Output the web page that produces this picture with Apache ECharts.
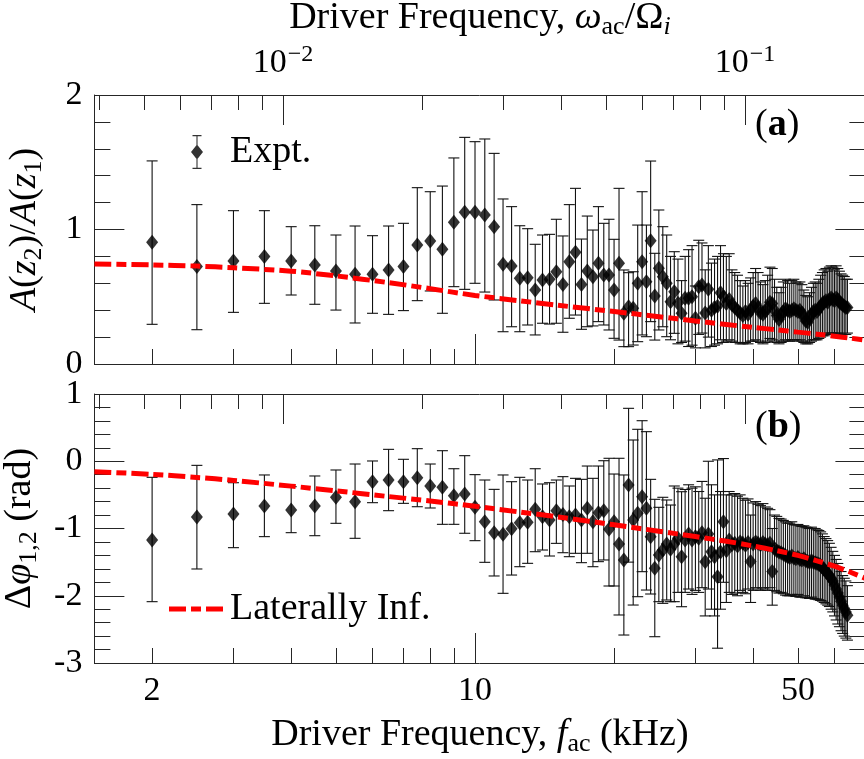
<!DOCTYPE html>
<html>
<head>
<meta charset="utf-8">
<title>Driver frequency response</title>
<script src="https://cdn.jsdelivr.net/npm/echarts@6.0.0/dist/echarts.min.js"></script>
<style>
  html, body { margin: 0; padding: 0; background: #ffffff; }
  #chart { width: 864px; height: 759px; }
</style>
</head>
<body>
<div id="chart"></div>
<script>
// ---- measured data -------------------------------------------------------
// Driver frequency (kHz) of each measurement
const freqKHz = [
  2, 2.5, 3, 3.5, 4, 4.5, 5, 5.5, 6, 6.5,
  7, 7.5, 8, 8.5, 9, 9.5, 10, 10.5, 11, 11.5,
  12, 12.5, 13, 13.5, 14, 14.5, 15, 15.5, 16, 16.5,
  17, 17.5, 18, 18.5, 19, 19.5, 20, 20.5, 21, 21.5,
  22, 22.5, 23, 23.5, 24, 24.5, 25, 25.5, 26, 26.5,
  27, 27.5, 28, 28.5, 29, 29.5, 30, 30.5, 31, 31.5,
  32, 32.5, 33, 33.5, 34, 34.5, 35, 35.5, 36, 36.5,
  37, 37.5, 38, 38.5, 39, 39.5, 40, 40.5, 41, 41.5,
  42, 42.5, 43, 43.5, 44, 44.5, 45, 45.5, 46, 46.5,
  47, 47.5, 48, 48.5, 49, 49.5, 50, 50.5, 51, 51.5,
  52, 52.5, 53, 53.5, 54, 54.5, 55, 55.5, 56, 56.5,
  57, 57.5, 58, 58.5, 59, 59.5, 60, 60.5, 61, 61.5,
  62, 62.5, 63, 63.5, 64
];

// (a) amplitude ratio A(z2)/A(z1) and its error-bar limits
const ampRatio = [
  0.905, 0.724, 0.766, 0.800, 0.766, 0.736, 0.691, 0.667, 0.667, 0.699,
  0.724, 0.885, 0.914, 0.853, 1.053, 1.128, 1.128, 1.108, 1.021, 0.741,
  0.729, 0.637, 0.642, 0.550, 0.625, 0.630, 0.686, 0.592, 0.761, 0.830,
  0.592, 0.691, 0.649, 0.749, 0.662, 0.662, 0.550, 0.749, 0.377, 0.426,
  0.414, 0.600, 0.761, 0.612, 0.917, 0.505, 0.711, 0.649, 0.600, 0.463,
  0.537, 0.451, 0.377, 0.488, 0.488, 0.500, 0.340, 0.575, 0.587, 0.380,
  0.555, 0.400, 0.420, 0.430, 0.530, 0.500, 0.450, 0.480, 0.440, 0.420,
  0.400, 0.380, 0.360, 0.390, 0.370, 0.400, 0.430, 0.450, 0.420, 0.380,
  0.370, 0.390, 0.420, 0.460, 0.450, 0.400, 0.360, 0.330, 0.360, 0.390,
  0.410, 0.400, 0.390, 0.400, 0.410, 0.400, 0.390, 0.400, 0.380, 0.350,
  0.320, 0.310, 0.340, 0.370, 0.390, 0.400, 0.390, 0.410, 0.430, 0.450,
  0.460, 0.470, 0.460, 0.480, 0.490, 0.480, 0.470, 0.490, 0.480, 0.460,
  0.450, 0.440, 0.430, 0.420, 0.420
];
const ampLow = [
  0.295, 0.255, 0.384, 0.451, 0.513, 0.444, 0.401, 0.305, 0.377, 0.369,
  0.397, 0.471, 0.543, 0.377, 0.575, 0.555, 0.600, 0.535, 0.476, 0.240,
  0.277, 0.240, 0.290, 0.216, 0.303, 0.297, 0.303, 0.236, 0.340, 0.364,
  0.258, 0.277, 0.283, 0.315, 0.290, 0.253, 0.191, 0.178, 0.129, 0.129,
  0.141, 0.166, 0.216, 0.203, 0.315, 0.178, 0.253, 0.277, 0.203, 0.180,
  0.228, 0.150, 0.160, 0.170, 0.130, 0.140, 0.120, 0.220, 0.230, 0.120,
  0.200, 0.130, 0.140, 0.150, 0.180, 0.160, 0.170, 0.180, 0.170, 0.160,
  0.160, 0.150, 0.150, 0.160, 0.150, 0.170, 0.170, 0.180, 0.170, 0.160,
  0.150, 0.160, 0.170, 0.190, 0.180, 0.170, 0.160, 0.150, 0.160, 0.170,
  0.180, 0.170, 0.170, 0.180, 0.180, 0.180, 0.170, 0.180, 0.170, 0.160,
  0.150, 0.150, 0.160, 0.170, 0.180, 0.180, 0.180, 0.190, 0.200, 0.210,
  0.210, 0.220, 0.220, 0.230, 0.230, 0.230, 0.220, 0.230, 0.230, 0.220,
  0.220, 0.220, 0.220, 0.220, 0.230
];
const ampHigh = [
  1.510, 1.185, 1.140, 1.140, 1.021, 1.028, 0.959, 1.026, 0.954, 1.026,
  1.046, 1.311, 1.281, 1.323, 1.532, 1.685, 1.653, 1.673, 1.566, 1.227,
  1.170, 1.028, 1.006, 0.890, 0.959, 0.964, 1.076, 0.952, 1.185, 1.306,
  0.929, 1.100, 0.996, 1.170, 1.046, 1.076, 0.927, 1.306, 0.699, 0.679,
  0.686, 1.033, 1.281, 1.033, 1.509, 0.823, 1.145, 1.021, 0.959, 0.800,
  0.835, 0.780, 0.620, 0.800, 0.850, 0.880, 0.580, 0.920, 0.900, 0.700,
  0.880, 0.750, 0.780, 0.800, 0.880, 0.820, 0.800, 0.820, 0.700, 0.680,
  0.660, 0.620, 0.580, 0.620, 0.600, 0.640, 0.680, 0.710, 0.680, 0.610,
  0.590, 0.620, 0.660, 0.720, 0.710, 0.630, 0.570, 0.530, 0.570, 0.610,
  0.630, 0.620, 0.600, 0.620, 0.630, 0.610, 0.600, 0.610, 0.590, 0.550,
  0.510, 0.500, 0.530, 0.570, 0.600, 0.610, 0.600, 0.630, 0.660, 0.680,
  0.700, 0.710, 0.690, 0.720, 0.730, 0.720, 0.700, 0.730, 0.710, 0.690,
  0.670, 0.660, 0.650, 0.630, 0.630
];

// (b) phase difference Δφ(1,2) in rad and its error-bar limits
const phaseDiff = [
  -1.171, -0.829, -0.784, -0.665, -0.725, -0.665, -0.536, -0.601, -0.304, -0.279,
  -0.304, -0.244, -0.368, -0.388, -0.512, -0.487, -0.685, -0.898, -1.062, -1.087,
  -1.002, -0.913, -0.908, -0.715, -0.824, -0.874, -0.735, -0.790, -0.824, -0.800,
  -0.874, -0.700, -0.898, -0.765, -0.735, -1.012, -0.898, -1.231, -1.468, -0.353,
  -0.874, -0.774, -0.527, -0.700, -1.121, -1.592, -1.394, -1.320, -1.231, -1.310,
  -1.231, -1.146, -1.419, -1.171, -1.082, -1.171, -1.121, -1.146, -1.062, -1.493,
  -1.082, -1.345, -1.420, -1.716, -1.350, -0.898, -1.330, -1.171, -1.240, -1.220,
  -1.260, -1.200, -1.220, -1.250, -1.210, -1.490, -1.230, -1.200, -1.220, -1.240,
  -1.210, -1.230, -1.250, -1.220, -1.640, -1.300, -1.330, -1.350, -1.360, -1.380,
  -1.400, -1.420, -1.430, -1.410, -1.440, -1.450, -1.430, -1.460, -1.470, -1.450,
  -1.480, -1.490, -1.500, -1.480, -1.500, -1.510, -1.520, -1.530, -1.550, -1.580,
  -1.610, -1.640, -1.670, -1.700, -1.740, -1.780, -1.840, -1.900, -1.960, -2.020,
  -2.080, -2.140, -2.190, -2.240, -2.290
];
const phaseLow = [
  -2.088, -1.602, -1.285, -1.121, -1.062, -1.107, -0.923, -1.146, -0.616, -0.735,
  -0.626, -0.676, -0.695, -0.938, -0.938, -1.071, -1.181, -1.503, -1.706, -1.964,
  -1.692, -1.568, -1.518, -1.345, -1.320, -1.409, -1.221, -1.360, -1.419, -1.369,
  -1.508, -1.369, -1.568, -1.493, -1.468, -1.855, -1.855, -2.286, -2.584, -1.500,
  -2.138, -2.014, -1.642, -1.915, -1.974, -2.609, -2.088, -2.113, -2.063, -2.088,
  -2.088, -1.950, -2.163, -1.950, -1.900, -1.980, -1.920, -1.950, -1.880, -2.300,
  -1.900, -2.200, -2.300, -2.780, -2.200, -1.800, -2.100, -1.950, -1.980, -1.960,
  -2.000, -1.920, -1.950, -1.970, -1.900, -2.100, -1.920, -1.880, -1.900, -1.920,
  -1.880, -1.900, -1.920, -1.880, -2.140, -1.920, -1.940, -1.960, -1.950, -1.970,
  -1.990, -2.000, -2.000, -1.980, -2.000, -2.010, -1.980, -2.020, -2.020, -2.000,
  -2.030, -2.030, -2.040, -2.020, -2.040, -2.050, -2.050, -2.060, -2.070, -2.080,
  -2.100, -2.120, -2.140, -2.160, -2.200, -2.240, -2.300, -2.360, -2.420, -2.460,
  -2.520, -2.560, -2.600, -2.630, -2.660
];
const phaseHigh = [
  -0.239, -0.061, -0.319, -0.204, -0.378, -0.219, -0.130, -0.041, 0.004, 0.177,
  0.029, 0.187, -0.041, 0.157, -0.111, 0.083, -0.199, -0.279, -0.418, -0.204,
  -0.304, -0.239, -0.279, -0.111, -0.338, -0.319, -0.279, -0.229, -0.368, -0.254,
  -0.269, -0.071, -0.254, -0.071, 0.008, 0.044, -0.190, 0.044, -0.204, 0.787,
  0.316, 0.475, 0.603, 0.440, -0.269, -0.566, -0.685, -0.536, -0.576, -0.651,
  -0.368, -0.400, -0.453, -0.420, -0.350, -0.400, -0.380, -0.450, -0.300, -0.550,
  0.000, -0.350, -0.500, 0.020, -0.450, 0.040, -0.500, -0.450, -0.500, -0.480,
  -0.520, -0.500, -0.550, -0.580, -0.560, -0.800, -0.620, -0.600, -0.640, -0.660,
  -0.630, -0.680, -0.700, -0.720, -1.000, -0.800, -0.820, -0.850, -0.860, -0.880,
  -0.900, -0.920, -0.920, -0.900, -0.940, -0.950, -0.940, -0.960, -0.970, -0.960,
  -0.980, -0.990, -1.000, -0.980, -1.000, -1.000, -1.020, -1.030, -1.050, -1.080,
  -1.120, -1.150, -1.180, -1.220, -1.280, -1.340, -1.400, -1.460, -1.520, -1.580,
  -1.640, -1.700, -1.740, -1.780, -1.850
];

// ---- laterally infinite model --------------------------------------------
const modelFreq  = [1.5, 2, 2.5, 3, 4, 5, 6.5, 8, 10, 12.5, 15, 20, 25, 30, 35, 40, 45, 50, 55, 60, 65, 70];
const modelAmp   = [0.744, 0.737, 0.728, 0.716, 0.690, 0.655, 0.605, 0.560, 0.510, 0.470, 0.438, 0.390,
                    0.352, 0.320, 0.294, 0.272, 0.254, 0.237, 0.222, 0.207, 0.192, 0.178];
const modelPhase = [-0.155, -0.195, -0.240, -0.285, -0.370, -0.440, -0.525, -0.590, -0.670, -0.755, -0.825,
                    -0.945, -1.040, -1.120, -1.190, -1.260, -1.330, -1.400, -1.480, -1.560, -1.650, -1.740];

// ---- axis ticks ----------------------------------------------------------
const kHzMinorTicks    = [2, 3, 4, 5, 6, 7, 8, 9, 20, 30, 40, 50, 60];
const kHzDecadeTicks   = [10];
const kHzTickLabels    = [2, 10, 50];
const omegaMinorTicks  = [0.004, 0.005, 0.006, 0.007, 0.008, 0.009, 0.02, 0.03, 0.04, 0.05, 0.06, 0.07, 0.08, 0.09];
const omegaDecadeTicks = [0.01, 0.1];

const fMin = 1.5, fMax = 70;       // kHz span of both panels
const kHzPerOmega = 384;           // f_ac (kHz) at which ω_ac/Ω_i = 1

// ---- styling -------------------------------------------------------------
const FONT = '"Liberation Serif", "DejaVu Serif", serif';
const AXIS_COLOR = '#262626';
const TEXT_SIZE = 38;
const TICK_SIZE = 34;

const lg = Math.log10;
const kMin = lg(fMin), kMax = lg(fMax);
const wMin = lg(fMin / kHzPerOmega), wMax = lg(fMax / kHzPerOmega);

const mathRich = {
  it:    { fontFamily: FONT, fontSize: TEXT_SIZE, fontStyle: 'italic', color: '#000', lineHeight: 46 },
  up:    { fontFamily: FONT, fontSize: TEXT_SIZE, color: '#000', lineHeight: 46 },
  sub:   { fontFamily: FONT, fontSize: 26, color: '#000', lineHeight: 26, verticalAlign: 'top', padding: [19, 0, 0, 0] },
  subIt: { fontFamily: FONT, fontSize: 26, fontStyle: 'italic', color: '#000', lineHeight: 26, verticalAlign: 'top', padding: [19, 0, 0, 0] }
};
const nameStyle = { fontFamily: FONT, fontSize: TEXT_SIZE, color: '#000', lineHeight: 46, rich: mathRich };

const tickLine = { color: AXIS_COLOR, width: 1 };
const frameLine = { show: true, onZero: false, lineStyle: { color: AXIS_COLOR, width: 1 } };

function tickAxis(grid, position, min, max, ticks, length, extra) {
  return Object.assign({
    type: 'value', gridIndex: grid, position: position, min: min, max: max,
    axisLine: { show: false, onZero: false },
    axisTick: { show: true, inside: true, length: length, customValues: ticks.map(lg), lineStyle: tickLine },
    axisLabel: { show: false },
    splitLine: { show: false }
  }, extra || {});
}

function panelXAxes(grid, withKHzLabels, withOmegaLabels) {
  const kHzExtra = { axisLine: frameLine };
  if (withKHzLabels) {
    Object.assign(kHzExtra, {
      axisLabel: {
        show: true, customValues: kHzTickLabels.map(lg), margin: 8,
        formatter: v => String(Math.round(Math.pow(10, v))),
        fontFamily: FONT, fontSize: TICK_SIZE, color: '#000', lineHeight: 40
      },
      name: '{up|Driver Frequency, }{it|f}{sub|ac}{up| (kHz)}',
      nameLocation: 'middle', nameGap: 48, nameTextStyle: nameStyle
    });
  }
  const omegaExtra = { axisLine: frameLine };
  if (withOmegaLabels) {
    Object.assign(omegaExtra, {
      axisLabel: {
        show: true, customValues: omegaDecadeTicks.map(lg), margin: 12,
        formatter: v => '{num|10}{sup|\u2212' + Math.abs(Math.round(v)) + '}',
        fontFamily: FONT, fontSize: TICK_SIZE, color: '#000', lineHeight: 40,
        rich: {
          num: { fontFamily: FONT, fontSize: TICK_SIZE, color: '#000', lineHeight: 40 },
          sup: { fontFamily: FONT, fontSize: 24, color: '#000', lineHeight: 24, verticalAlign: 'top', padding: [0, 0, 0, 1] }
        }
      },
      name: '{up|Driver Frequency, }{it|\u03C9}{sub|ac}{up|/\u03A9}{subIt|i}',
      nameLocation: 'middle', nameGap: 54, nameTextStyle: nameStyle
    });
  }
  return [
    // data axis (log scale); ticks and labels come from the axes below
    { type: 'log', logBase: 10, gridIndex: grid, min: fMin, max: fMax, show: false },
    tickAxis(grid, 'bottom', kMin, kMax, kHzMinorTicks, 15, kHzExtra),
    tickAxis(grid, 'bottom', kMin, kMax, kHzDecadeTicks, 30),
    tickAxis(grid, 'top', wMin, wMax, omegaMinorTicks, 15, omegaExtra),
    tickAxis(grid, 'top', wMin, wMax, omegaDecadeTicks, 30)
  ];
}

function panelYAxes(grid, min, max, name) {
  const common = {
    type: 'value', gridIndex: grid, min: min, max: max, interval: 1,
    axisLine: frameLine,
    axisTick: { show: true, inside: true, length: 30, lineStyle: tickLine },
    minorTick: { show: true, splitNumber: 5, length: 16, lineStyle: tickLine },
    splitLine: { show: false }, minorSplitLine: { show: false }
  };
  return [
    Object.assign({}, common, {
      position: 'left',
      axisLabel: { show: true, margin: 12, fontFamily: FONT, fontSize: TICK_SIZE, color: '#000', formatter: v => String(v) },
      name: name, nameLocation: 'middle', nameRotate: 90, nameGap: 46, nameTextStyle: nameStyle
    }),
    Object.assign({}, common, { position: 'right', axisLabel: { show: false } })
  ];
}

function renderErrorBar(params, api) {
  const f = api.value(0);
  const hi = api.coord([f, api.value(2)]);
  const lo = api.coord([f, api.value(1)]);
  const half = 5.5;
  const style = { stroke: '#111', lineWidth: 1.1, fill: null };
  return {
    type: 'group',
    children: [
      { type: 'line', shape: { x1: hi[0], y1: hi[1], x2: lo[0], y2: lo[1] }, style: style },
      { type: 'line', shape: { x1: hi[0] - half, y1: hi[1], x2: hi[0] + half, y2: hi[1] }, style: style },
      { type: 'line', shape: { x1: lo[0] - half, y1: lo[1], x2: lo[0] + half, y2: lo[1] }, style: style }
    ]
  };
}

function panelSeries(xIdx, yIdx, values, lows, highs, model) {
  return [
    {
      type: 'custom', name: 'error bars', xAxisIndex: xIdx, yAxisIndex: yIdx,
      renderItem: renderErrorBar, itemStyle: { color: '#111' }, silent: true, z: 2,
      encode: { x: 0, y: [1, 2] },
      data: freqKHz.map((f, i) => [f, lows[i], highs[i]])
    },
    {
      type: 'scatter', name: 'Expt.', xAxisIndex: xIdx, yAxisIndex: yIdx,
      symbol: 'diamond', symbolSize: [12, 15], itemStyle: { color: '#000' }, z: 3,
      data: freqKHz.map((f, i) => [f, values[i]])
    },
    {
      type: 'line', name: 'Laterally Inf.', xAxisIndex: xIdx, yAxisIndex: yIdx,
      symbol: 'none', smooth: 0.3, z: 4,
      itemStyle: { color: '#ff0000' },
      lineStyle: { color: '#ff0000', width: 5, type: [17, 5, 10, 5], cap: 'butt' },
      data: modelFreq.map((f, i) => [f, model[i]])
    }
  ];
}

const xAxes = panelXAxes(0, false, true).concat(panelXAxes(1, true, false));
const yAxes = panelYAxes(0, 0, 2, '{it|A}{up|(}{it|z}{sub|2}{up|)/}{it|A}{up|(}{it|z}{sub|1}{up|)}')
  .concat(panelYAxes(1, -3, 1, '{up|\u0394}{it|\u03C6}{sub|1,2}{up| (rad)}'));

const option = {
  animation: false,
  backgroundColor: '#ffffff',
  textStyle: { fontFamily: FONT, color: '#000' },
  grid: [
    { left: 94.4, top: 95, width: 771, height: 269, outerBoundsMode: 'none', containLabel: false },
    { left: 94.4, top: 394, width: 771, height: 269, outerBoundsMode: 'none', containLabel: false }
  ],
  xAxis: xAxes,
  yAxis: yAxes,
  legend: [
    {
      left: 191, top: 133, padding: 0, itemWidth: 12, itemHeight: 34, selectedMode: false,
      data: [{
        name: 'Expt.',
        icon: 'path://M1.5,0H10.5V1.2H1.5Z M5.45,0H6.55V34H5.45Z M1.5,32.8H10.5V34H1.5Z M6,9.5L12,17L6,24.5L0,17Z'
      }],
      textStyle: { fontFamily: FONT, fontSize: TEXT_SIZE, color: '#000', padding: [0, 0, 0, 22] }
    },
    {
      left: 169, top: 590, padding: 0, itemWidth: 54, itemHeight: 5, selectedMode: false,
      data: [{
        name: 'Laterally Inf.',
        icon: 'path://M0,0H17V5H0Z M22,0H32V5H22Z M37,0H54V5H37Z'
      }],
      textStyle: { fontFamily: FONT, fontSize: TEXT_SIZE, color: '#000', padding: [0, 0, 0, 2] }
    }
  ],
  graphic: [
    { type: 'text', left: 755, top: 106, z: 10,
      style: { text: '({b|a})', fontFamily: FONT, fontSize: TEXT_SIZE, fill: '#000',
               rich: { b: { fontFamily: FONT, fontSize: TEXT_SIZE, fontWeight: 'bold', fill: '#000' } } } },
    { type: 'text', left: 755, top: 408, z: 10,
      style: { text: '({b|b})', fontFamily: FONT, fontSize: TEXT_SIZE, fill: '#000',
               rich: { b: { fontFamily: FONT, fontSize: TEXT_SIZE, fontWeight: 'bold', fill: '#000' } } } }
  ],
  series: panelSeries(0, 0, ampRatio, ampLow, ampHigh, modelAmp)
    .concat(panelSeries(5, 2, phaseDiff, phaseLow, phaseHigh, modelPhase))
};

const chart = echarts.init(document.getElementById('chart'));
chart.setOption(option);
</script>
</body>
</html>
